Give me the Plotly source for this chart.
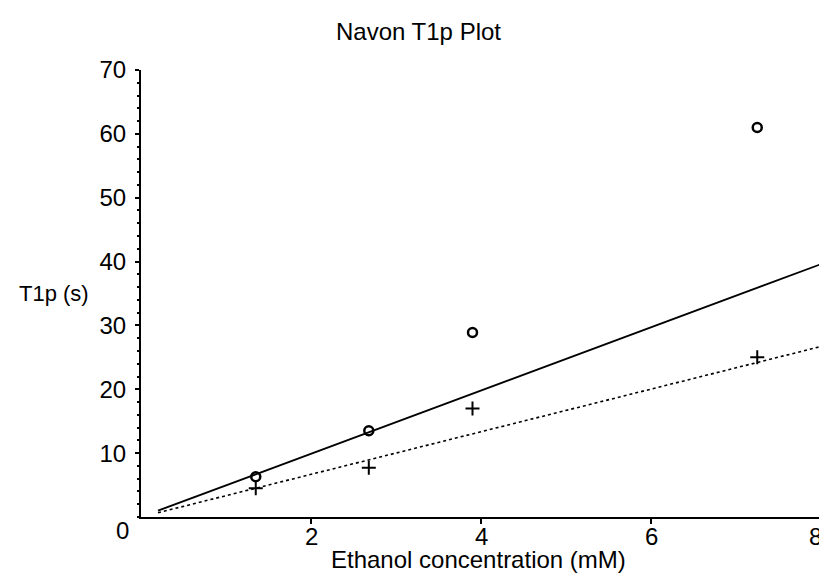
import plotly.graph_objects as go

conc = [1.35, 2.68, 3.9, 7.25]
t1p_circle = [6.3, 13.5, 28.9, 61.0]
t1p_cross = [4.5, 7.7, 17.0, 25.0]
fit_x = [0.2, 8.0]
fit_solid = [0.99, 39.6]
fit_dotted = [0.67, 26.7]
y_ticks = [10, 20, 30, 40, 50, 60, 70]
x_ticks = [2, 4, 6, 8]

FONT = "Liberation Sans, Arial, sans-serif"
FS = 24
OFF = 8  # default page body margin
W, H = 827 - OFF, 575 - OFF
L, R, T, B = 141 - OFF, 6, 70 - OFF, 575 - 517
PW, PH = W - L - R, H - T - B

fig = go.Figure()
fig.add_trace(go.Scatter(x=fit_x, y=fit_solid, mode="lines",
                         line=dict(color="black", width=1.8), showlegend=False))
fig.add_trace(go.Scatter(x=fit_x, y=fit_dotted, mode="lines",
                         line=dict(color="black", width=1.6, dash="dot"), showlegend=False))
fig.add_trace(go.Scatter(x=conc, y=t1p_circle, mode="markers",
                         marker=dict(symbol="circle-open", size=9, color="black",
                                     line=dict(width=2.5, color="black")), showlegend=False))
fig.add_trace(go.Scatter(x=conc, y=t1p_cross, mode="markers",
                         marker=dict(symbol="cross-thin", size=10, color="black",
                                     line=dict(width=2, color="black")), showlegend=False))

def px_x(p):
    return (p - OFF - L) / PW

def px_y(p):
    return (H - B - (p - OFF)) / PH

annotations = [
    dict(text="Navon T1p Plot", xref="paper", yref="paper", x=px_x(418), y=px_y(31),
         xanchor="center", yanchor="middle", showarrow=False,
         font=dict(family=FONT, size=FS)),
    dict(text="0", xref="paper", yref="paper", x=px_x(122), y=px_y(530),
         xanchor="center", yanchor="middle", showarrow=False,
         font=dict(family=FONT, size=FS)),
    dict(text="T1p (s)", xref="paper", yref="paper", x=px_x(91), y=px_y(293),
         xanchor="right", yanchor="middle", showarrow=False,
         font=dict(family=FONT, size=FS - 2)),
    dict(text="Ethanol concentration (mM)", xref="paper", yref="paper",
         x=px_x(478), y=px_y(559), xanchor="center", yanchor="middle",
         showarrow=False, font=dict(family=FONT, size=FS)),
]
for v in x_ticks:
    annotations.append(dict(text=str(v), xref="x", yref="paper", x=v, y=0,
                            xanchor="center", yanchor="middle", yshift=-19,
                            xshift=-6 if v == 8 else 0,
                            showarrow=False, font=dict(family=FONT, size=FS)))

fig.update_layout(
    width=W, height=H,
    margin=dict(l=L, r=R, t=T, b=B),
    paper_bgcolor="white", plot_bgcolor="white",
    font=dict(family=FONT, size=FS, color="black"),
    xaxis=dict(range=[0, 8], tickvals=x_ticks, showticklabels=False,
               showgrid=False, zeroline=False, showline=True, linecolor="black", linewidth=2,
               ticks="outside", ticklen=5, tickwidth=1.5, tickcolor="black"),
    yaxis=dict(range=[0, 70], tickvals=y_ticks, ticktext=[str(v) for v in y_ticks],
               showgrid=False, zeroline=False, showline=True, linecolor="black", linewidth=2,
               ticks="outside", ticklen=4, tickwidth=1.5, tickcolor="black",
               ticklabelstandoff=4,
               tickfont=dict(family=FONT, size=FS),
               minor=dict(dtick=2, ticks="outside", ticklen=2, tickwidth=1.5, tickcolor="black")),
    annotations=annotations,
)

fig.write_html("out.html")
